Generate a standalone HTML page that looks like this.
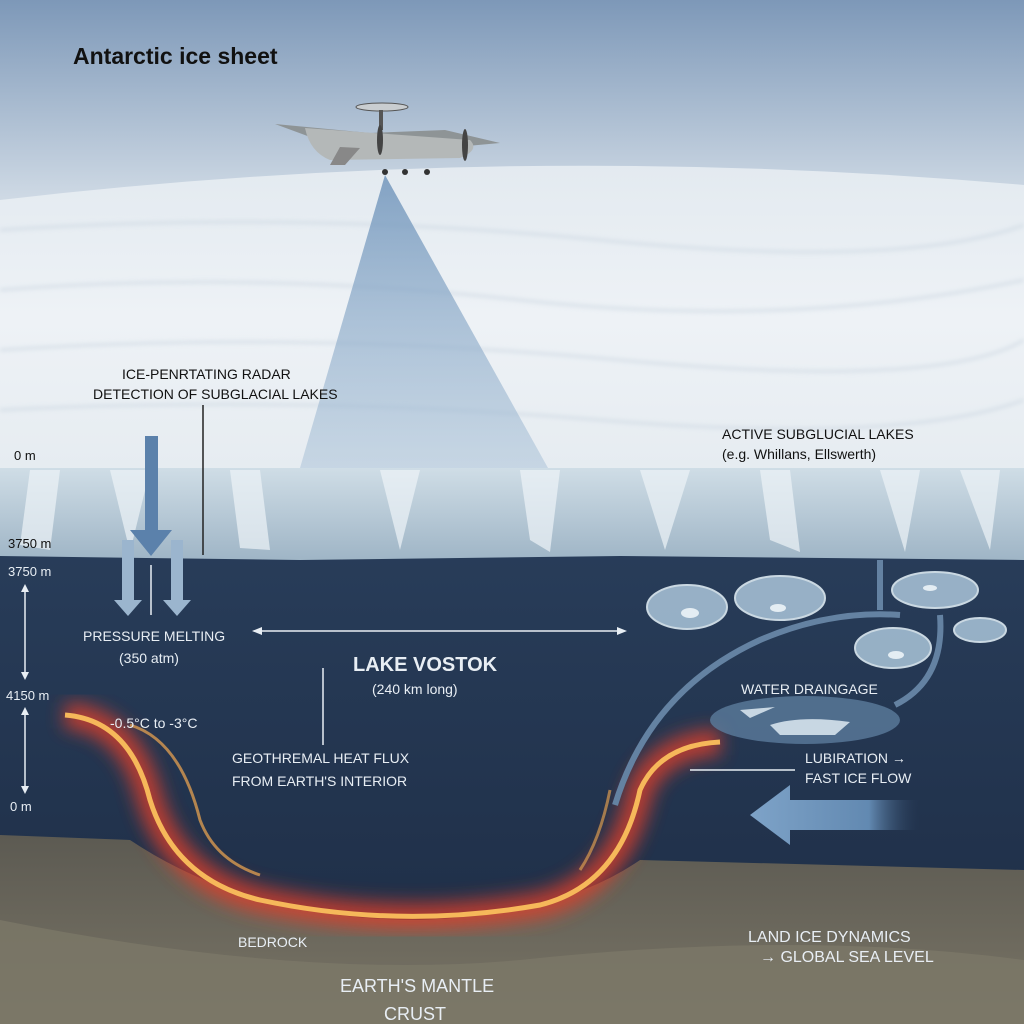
<!DOCTYPE html>
<html><head><meta charset="utf-8"><style>
html,body{margin:0;padding:0;width:1024px;height:1024px;overflow:hidden;background:#2a3d58}
svg{display:block}
text{font-family:"Liberation Sans",sans-serif}
</style></head><body>
<svg width="1024" height="1024" viewBox="0 0 1024 1024" xmlns="http://www.w3.org/2000/svg">
<defs>
<linearGradient id="sky" x1="0" y1="0" x2="0" y2="1">
<stop offset="0" stop-color="#7d98b8"/><stop offset="1" stop-color="#d3dde7"/></linearGradient>
<linearGradient id="snow" x1="0" y1="0" x2="0" y2="1">
<stop offset="0" stop-color="#e3eaf0"/><stop offset="0.5" stop-color="#eef2f6"/><stop offset="1" stop-color="#e6ecf1"/></linearGradient>
<linearGradient id="cliff" x1="0" y1="0" x2="0" y2="1">
<stop offset="0" stop-color="#cfdde6"/><stop offset="1" stop-color="#9fb5c6"/></linearGradient>
<linearGradient id="water" x1="0" y1="0" x2="0" y2="1">
<stop offset="0" stop-color="#2d4564"/><stop offset="0.5" stop-color="#293e5b"/><stop offset="1" stop-color="#1d2c44"/></linearGradient>
<linearGradient id="rock" x1="0" y1="0" x2="0" y2="1">
<stop offset="0" stop-color="#5c5a52"/><stop offset="1" stop-color="#7a7566"/></linearGradient>
<linearGradient id="beam" x1="0" y1="0" x2="0" y2="1">
<stop offset="0" stop-color="#6a90b8" stop-opacity="0.8"/><stop offset="1" stop-color="#a6bfd6" stop-opacity="0.5"/></linearGradient>
<linearGradient id="bigarrow" x1="0" y1="0" x2="1" y2="0">
<stop offset="0" stop-color="#7ea3c8"/><stop offset="0.7" stop-color="#6289b1"/><stop offset="1" stop-color="#2a3f5c" stop-opacity="0"/></linearGradient>
<filter id="glow"><feGaussianBlur stdDeviation="9"/></filter>
<filter id="blur2"><feGaussianBlur stdDeviation="2"/></filter>
</defs>
<rect width="1024" height="1024" fill="url(#water)"/>
<rect width="1024" height="210" fill="url(#sky)"/>
<path d="M0 200 Q512 140 1024 185 L1024 470 L0 470Z" fill="url(#snow)"/>
<g stroke="#c9d5e0" stroke-width="3" fill="none" opacity="0.6" filter="url(#blur2)">
<path d="M0 230 Q300 210 600 240 T1024 225"/><path d="M0 290 Q250 270 520 300 T1024 280"/>
<path d="M0 350 Q300 330 620 360 T1024 340"/><path d="M0 410 Q300 395 600 420 T1024 400"/>
</g>
<polygon points="385,175 300,468 548,468" fill="url(#beam)"/>
<!-- cliff -->
<path d="M0 468 L1024 468 L1024 560 L620 556 L300 560 L0 556Z" fill="url(#cliff)"/>
<g fill="#eef4f8" opacity="0.7">
<polygon points="30,470 60,470 50,550 20,545"/><polygon points="110,470 150,470 130,552"/>
<polygon points="230,470 260,470 270,550 240,548"/><polygon points="380,470 420,470 400,550"/>
<polygon points="520,470 560,470 550,552 530,540"/><polygon points="640,470 690,470 665,550"/>
<polygon points="760,470 790,470 800,552 770,540"/><polygon points="880,470 920,470 905,552"/>
<polygon points="960,470 1000,470 990,550"/>
</g>
<!-- rock -->
<path d="M0 835 L130 840 Q250 920 420 920 Q560 915 640 860 L1024 870 L1024 1024 L0 1024Z" fill="url(#rock)"/>
<path d="M0 920 Q300 980 520 960 Q800 930 1024 960 L1024 1024 L0 1024Z" fill="#7c7868" opacity="0.8"/>
<!-- glow curves -->
<path d="M65 715 Q130 720 150 800 Q175 880 260 900 Q400 930 540 905 Q620 885 640 790 Q660 745 720 742" stroke="#e0402a" stroke-width="26" fill="none" filter="url(#glow)" opacity="0.8"/>
<path d="M65 715 Q130 720 150 800 Q175 880 260 900 Q400 930 540 905 Q620 885 640 790 Q660 745 720 742" stroke="#f6b85a" stroke-width="5" fill="none"/>
<path d="M130 725 Q180 740 200 820 Q215 860 260 875" stroke="#d89a50" stroke-width="3" fill="none" opacity="0.8"/>
<path d="M580 870 Q600 840 610 790" stroke="#d89a50" stroke-width="3" fill="none" opacity="0.7"/>
<!-- lakes -->
<g fill="#9db7cc" stroke="#d3e1ea" stroke-width="2" opacity="0.95">
<ellipse cx="687" cy="607" rx="40" ry="22"/><ellipse cx="780" cy="598" rx="45" ry="22"/>
<ellipse cx="935" cy="590" rx="43" ry="18"/><ellipse cx="893" cy="648" rx="38" ry="20"/>
<ellipse cx="980" cy="630" rx="26" ry="12"/>
</g>
<g fill="#e4edf3"><ellipse cx="690" cy="613" rx="9" ry="5"/><ellipse cx="778" cy="608" rx="8" ry="4"/><ellipse cx="930" cy="588" rx="7" ry="3"/><ellipse cx="896" cy="655" rx="8" ry="4"/></g>
<ellipse cx="805" cy="720" rx="95" ry="24" fill="#5b7c9c" opacity="0.8"/>
<path d="M740 710 L775 707 L750 718Z M770 725 Q800 715 850 722 L835 735 L780 735Z" fill="#c8d7e3"/>
<g stroke="#6482a2" stroke-width="6" fill="none">
<path d="M615 805 Q650 690 760 640 Q830 610 900 615"/><path d="M940 615 Q945 680 895 705"/><path d="M880 560 L880 610"/>
</g>
<!-- arrows down -->
<path d="M145 436 L158 436 L158 530 L172 530 L151 556 L130 530 L145 530Z" fill="#5b81ab"/>
<path d="M122 540 L134 540 L134 600 L142 600 L128 616 L114 600 L122 600Z" fill="#9bb5ce"/>
<path d="M171 540 L183 540 L183 600 L191 600 L177 616 L163 600 L171 600Z" fill="#9bb5ce"/>
<path d="M920 800 L790 800 L790 785 L750 815 L790 845 L790 830 L920 830Z" fill="url(#bigarrow)"/>
<g stroke="#e8eef4" stroke-width="1.5" fill="#e8eef4">
<line x1="203" y1="405" x2="203" y2="555" stroke="#222"/>
<line x1="151" y1="565" x2="151" y2="615"/>
<line x1="260" y1="631" x2="622" y2="631"/>
<line x1="323" y1="668" x2="323" y2="745"/>
<line x1="25" y1="590" x2="25" y2="675"/><line x1="25" y1="713" x2="25" y2="790"/>
<line x1="690" y1="770" x2="795" y2="770"/>
</g>
<g fill="#e8eef4">
<polygon points="252,631 262,627 262,635"/><polygon points="627,631 617,627 617,635"/>
<polygon points="25,584 21,592 29,592"/><polygon points="25,680 21,672 29,672"/>
<polygon points="25,707 21,715 29,715"/><polygon points="25,794 21,786 29,786"/>
</g>
<!-- plane -->
<g>
<ellipse cx="382" cy="107" rx="26" ry="4" fill="#c9cdd0" stroke="#555"/>
<rect x="379" y="110" width="4" height="20" fill="#555"/>
<path d="M275 124 L370 133 L445 130 L500 143 L445 148 L370 150 L340 148Z" fill="#8e9496"/>
<path d="M305 128 L470 140 Q480 150 460 158 L330 160 Q310 152 305 128Z" fill="#b4b8b8"/>
<path d="M340 147 L330 165 L345 165 L360 148Z" fill="#888"/>
<circle cx="385" cy="172" r="3" fill="#333"/><circle cx="405" cy="172" r="3" fill="#333"/><circle cx="427" cy="172" r="3" fill="#333"/>
<ellipse cx="465" cy="145" rx="3" ry="16" fill="#444"/><ellipse cx="380" cy="140" rx="3" ry="15" fill="#444"/>
</g>
<!-- text -->
<text x="73" y="64" font-size="23" font-weight="bold" fill="#111">Antarctic ice sheet</text>
<g fill="#111" font-size="14">
<text x="122" y="379">ICE-PENRTATING RADAR</text>
<text x="93" y="399">DETECTION OF SUBGLACIAL LAKES</text>
<text x="722" y="439">ACTIVE SUBGLUCIAL LAKES</text>
<text x="722" y="459">(e.g. Whillans, Ellswerth)</text>
<text x="14" y="460" font-size="13">0 m</text>
<text x="8" y="548" font-size="13">3750 m</text>
</g>
<g fill="#e8eef4" font-size="14">
<text x="8" y="576" font-size="13">3750 m</text>
<text x="6" y="700" font-size="13">4150 m</text>
<text x="10" y="811" font-size="13">0 m</text>
<text x="83" y="641">PRESSURE MELTING</text>
<text x="119" y="663">(350 atm)</text>
<text x="353" y="671" font-size="20" font-weight="bold">LAKE VOSTOK</text>
<text x="372" y="694">(240 km long)</text>
<text x="110" y="728">-0.5°C to -3°C</text>
<text x="232" y="763">GEOTHREMAL HEAT FLUX</text>
<text x="232" y="786">FROM EARTH'S INTERIOR</text>
<text x="741" y="694">WATER DRAINGAGE</text>
<text x="805" y="763">LUBIRATION →</text>
<text x="805" y="783">FAST ICE FLOW</text>
<text x="238" y="947">BEDROCK</text>
<text x="748" y="942" font-size="16">LAND ICE DYNAMICS</text>
<text x="760" y="962" font-size="16">→ GLOBAL SEA LEVEL</text>
<text x="340" y="992" font-size="18">EARTH'S MANTLE</text>
<text x="384" y="1020" font-size="18">CRUST</text>
</g>
</svg>
</body></html>
